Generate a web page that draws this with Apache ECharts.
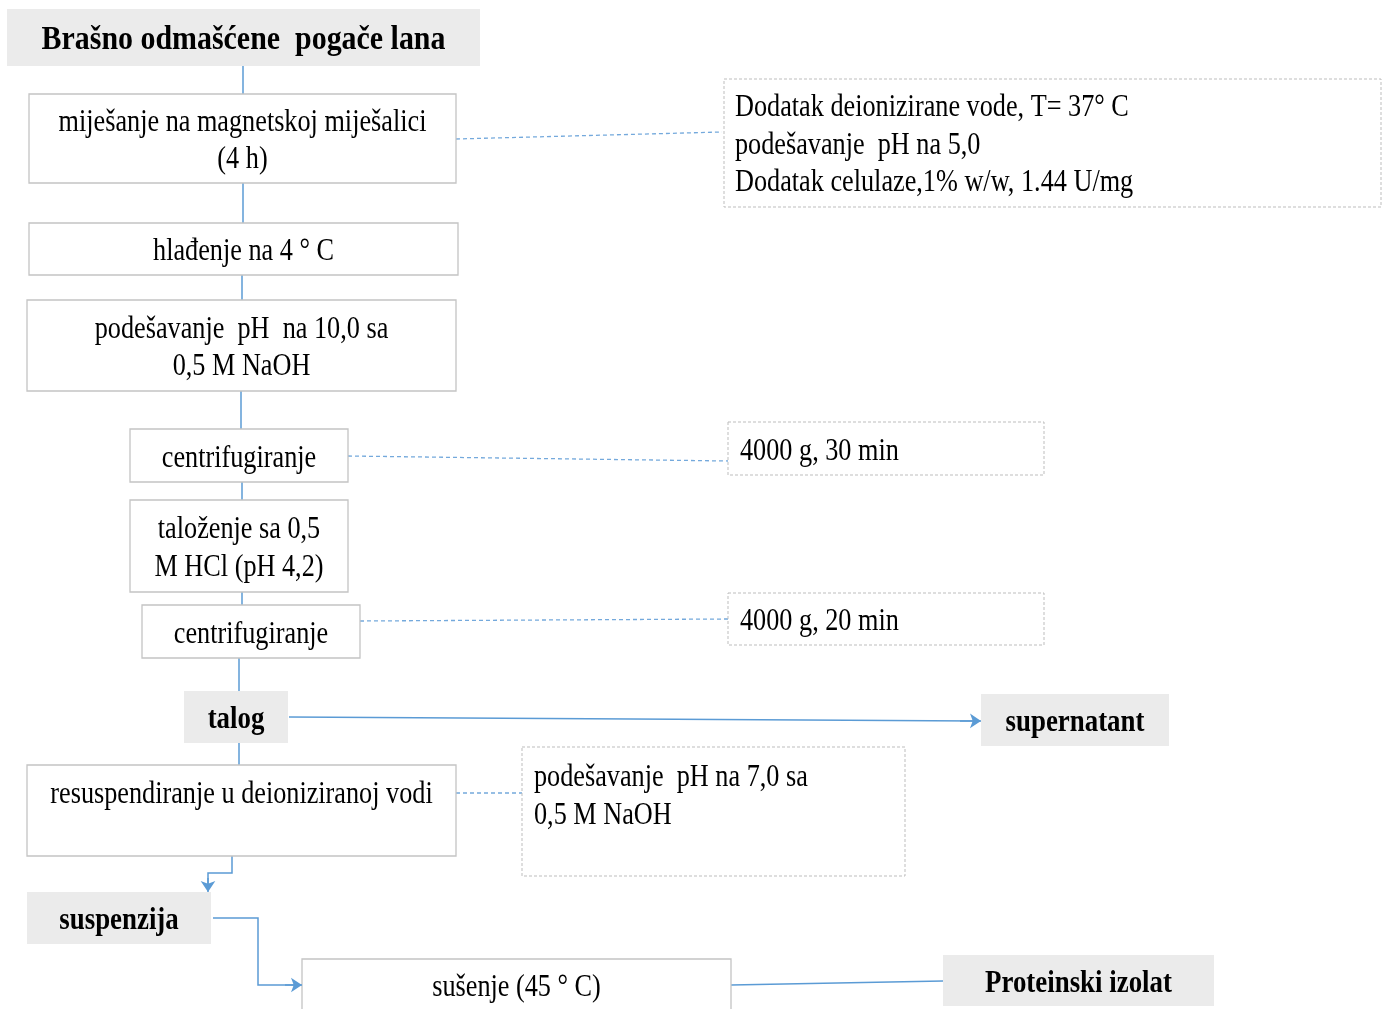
<!DOCTYPE html>
<html>
<head>
<meta charset="utf-8">
<script src="https://cdn.jsdelivr.net/npm/echarts@6/dist/echarts.min.js"></script>
<style>html,body{margin:0;padding:0;background:#fff;}#c{width:1383px;height:1009px;}</style>
</head>
<body>
<div id="c"></div>
<script>
// ---- content (flowchart texts) ----
const boxLabels = [
  'Brašno odmašćene  pogače lana',
  'miješanje na magnetskoj miješalici\n(4 h)',
  'Dodatak deionizirane vode, T= 37° C\npodešavanje  pH na 5,0\nDodatak celulaze,1% w/w, 1.44 U/mg',
  'hlađenje na 4 ° C',
  'podešavanje  pH  na 10,0 sa\n0,5 M NaOH',
  'centrifugiranje',
  '4000 g, 30 min',
  'taloženje sa 0,5\nM HCl (pH 4,2)',
  'centrifugiranje',
  '4000 g, 20 min',
  'talog',
  'supernatant',
  'resuspendiranje u deioniziranoj vodi',
  'podešavanje  pH na 7,0 sa\n0,5 M NaOH',
  'suspenzija',
  'sušenje (45 ° C)',
  'Proteinski izolat'
];
// kind: title / product (grey, bold), step (solid border), note (dashed border)
const boxKinds = ['title','step','note','step','step','step','note','step','step','note',
                  'product','product','step','note','product','step','product'];

// ---- layout (kept separate from content) ----
// [x0, y0, x1, y1, textX(or null=center), textY(first line center or null=middle)]
const boxLayout = [
  [7, 9, 480, 66, null, null],
  [29, 94, 456, 183, null, null],
  [724, 79, 1381, 207, 735, 107],
  [29, 223, 458, 275, null, null],
  [27, 300, 456, 391, null, null],
  [130, 429, 348, 482, null, null],
  [728, 422, 1044, 475, 740, 451],
  [130, 500, 348, 592, null, null],
  [142, 605, 360, 658, null, null],
  [728, 593, 1044, 645, 740, 621],
  [184, 691, 288, 743, null, null],
  [981, 694, 1169, 746, null, null],
  [27, 765, 456, 856, null, 794],
  [522, 747, 905, 876, 534, 777],
  [27, 892, 211, 944, null, null],
  [302, 959, 731, 1015, null, 987],
  [943, 955, 1214, 1006, null, null]
];

// connectors
const flowPlain = [
  [[243, 66], [243, 94]],
  [[243, 183], [243, 223]],
  [[242, 275], [242, 300]],
  [[241, 391], [241, 429]],
  [[242, 482], [242, 500]],
  [[242, 592], [242, 605]],
  [[239, 658], [239, 691]],
  [[239, 743], [239, 765]],
  [[731, 985], [943, 981]],
  [[289, 717], [975, 721]],
  [[232, 853], [232, 873], [208, 873], [208, 886]],
  [[213, 918], [258, 918], [258, 985], [296, 985]]
];
// arrow heads (final segments ending at box edges)
const flowArrow = [
  [[960, 720.9], [981, 721]],
  [[208, 878], [208, 892]],
  [[285, 985], [302, 985]]
];
const noteLinks = [
  [[456, 139], [722, 132]],
  [[348, 456], [728, 461]],
  [[360, 621], [728, 619]],
  [[456, 793], [522, 793]]
];

const chart = echarts.init(document.getElementById('c'), null, {renderer: 'canvas'});
const W = 1383, H = 1009;

function renderBox(params, api) {
  const i = params.dataIndex;
  const L = boxLayout[i];
  const kind = boxKinds[i];
  const p0 = api.coord([api.value(0), api.value(1)]);
  const p1 = api.coord([api.value(2), api.value(3)]);
  const x = Math.min(p0[0], p1[0]), y = Math.min(p0[1], p1[1]);
  const w = Math.abs(p1[0] - p0[0]), h = Math.abs(p1[1] - p0[1]);
  const label = boxLabels[i];
  const nLines = label.split('\n').length;
  const lh = 37.5;
  const bold = kind === 'product' || kind === 'title';
  let rectStyle;
  if (bold) rectStyle = {fill: '#ebebeb', stroke: null};
  else if (kind === 'step') rectStyle = {fill: '#fff', stroke: '#c4c4c4', lineWidth: 1.3};
  else rectStyle = {fill: '#fff', stroke: '#bdbdbd', lineWidth: 1, lineDash: [3, 2]};
  let tx, align;
  if (L[4] == null) { tx = x + w / 2; align = 'center'; }
  else { tx = api.coord([L[4], 0])[0]; align = 'left'; }
  let ty;
  if (L[5] == null) ty = y + h / 2 - (nLines - 1) * lh / 2 + 3;
  else ty = api.coord([0, L[5]])[1] + 1;
  const fs = kind === 'title' ? 34 : (bold ? 32 : 30.5);
  const sx = kind === 'title' ? 0.88 : (bold ? 0.84 : 0.86);
  return {
    type: 'group',
    children: [
      {type: 'rect', shape: {x: x, y: y, width: w, height: h}, style: rectStyle},
      {
        type: 'text', x: tx, y: ty, scaleX: sx, scaleY: 1,
        style: {
          text: label, x: 0, y: -lh / 2, fill: '#000',
          fontFamily: '"Liberation Serif", "Times New Roman", serif',
          fontSize: fs, fontWeight: bold ? 'bold' : 'normal',
          align: align, verticalAlign: 'top', lineHeight: lh
        }
      }
    ]
  };
}

chart.setOption({
  animation: false,
  backgroundColor: '#fff',
  grid: {left: 0, right: 0, top: 0, bottom: 0, containLabel: false},
  xAxis: {type: 'value', min: 0, max: W, show: false},
  yAxis: {type: 'value', min: 0, max: H, inverse: true, show: false},
  series: [
    {
      type: 'lines', coordinateSystem: 'cartesian2d', polyline: true, z: 1,
      symbol: 'none',
      lineStyle: {color: '#5b9bd5', width: 1.5, opacity: 1},
      data: flowPlain.map(c => ({coords: c}))
    },
    {
      type: 'lines', coordinateSystem: 'cartesian2d', polyline: false, z: 3,
      symbol: ['none', 'arrow'], symbolSize: 11,
      lineStyle: {color: '#5b9bd5', width: 1.5, opacity: 1},
      data: flowArrow.map(c => ({coords: c}))
    },
    {
      type: 'lines', coordinateSystem: 'cartesian2d', polyline: true, z: 1,
      symbol: 'none',
      lineStyle: {color: '#74a9dc', width: 1.3, type: [4, 3], opacity: 1},
      data: noteLinks.map(c => ({coords: c}))
    },
    {
      type: 'custom', coordinateSystem: 'cartesian2d', z: 2, clip: false,
      renderItem: renderBox,
      data: boxLayout.map(r => [r[0], r[1], r[2], r[3]])
    }
  ]
});
</script>
</body>
</html>
